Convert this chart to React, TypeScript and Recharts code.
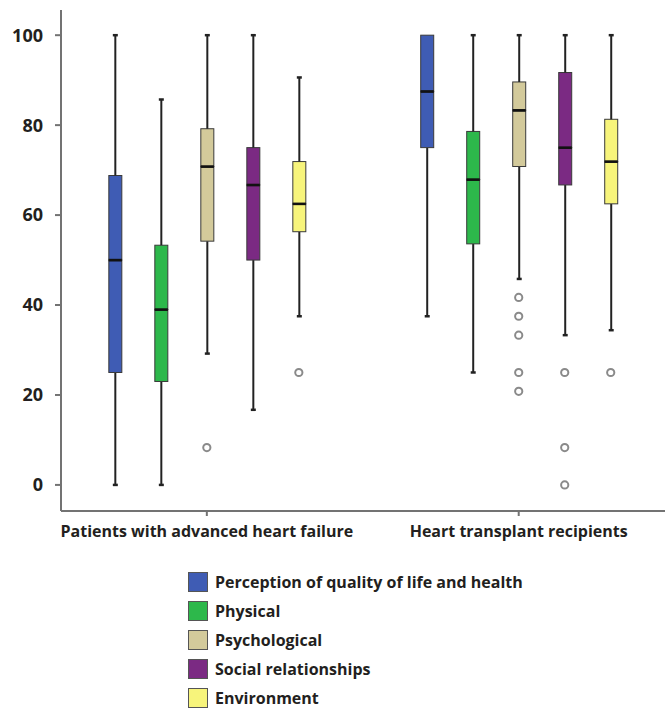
import { Bar, ComposedChart, Scatter, XAxis, YAxis } from "recharts";

const groups = ["Patients with advanced heart failure", "Heart transplant recipients"];
const domains = [
  "Perception of quality of life and health",
  "Physical",
  "Psychological",
  "Social relationships",
  "Environment",
];
const COLORS = ["#3F5CB4", "#2DB84B", "#D3CA9B", "#7B2A83", "#F7F47B"];

// five-number summaries per domain (order as in `domains`)
const failureMin = [0, 0, 29.2, 16.7, 37.5];
const failureQ1 = [25, 23, 54.2, 50, 56.3];
const failureMedian = [50, 39, 70.8, 66.7, 62.5];
const failureQ3 = [68.8, 53.3, 79.2, 75, 71.9];
const failureMax = [100, 85.7, 100, 100, 90.6];
const failureOutliers = [[], [], [8.3], [], [25]];

const transplantMin = [37.5, 25, 45.8, 33.3, 34.4];
const transplantQ1 = [75, 53.6, 70.8, 66.7, 62.5];
const transplantMedian = [87.5, 67.9, 83.3, 75, 71.9];
const transplantQ3 = [100, 78.6, 89.6, 91.7, 81.3];
const transplantMax = [100, 100, 100, 100, 100];
const transplantOutliers = [[], [], [41.7, 37.5, 33.3, 25, 20.8], [25, 8.3, 0], [25]];

const yTicks = [0, 20, 40, 60, 80, 100];

const GROUP_CENTERS = [3, 9.78];
const X_DOMAIN: [number, number] = [-0.17, 12.96];
const Y_DOMAIN: [number, number] = [-5.8, 105.6];

const stats = [
  { min: failureMin, q1: failureQ1, med: failureMedian, q3: failureQ3, max: failureMax, out: failureOutliers },
  { min: transplantMin, q1: transplantQ1, med: transplantMedian, q3: transplantQ3, max: transplantMax, out: transplantOutliers },
];

const rows = stats.flatMap((s, gi) =>
  domains.map((_, i) => ({
    pos: GROUP_CENTERS[gi] + i - 2,
    cat: i,
    base: s.min[i],
    lowWhisker: s.q1[i] - s.min[i],
    lowBox: s.med[i] - s.q1[i],
    highBox: s.q3[i] - s.med[i],
    highWhisker: s.max[i] - s.q3[i],
  }))
);

const outliers = stats.flatMap((s, gi) =>
  s.out.flatMap((vals, i) => vals.map((v) => ({ pos: GROUP_CENTERS[gi] + i - 2, value: v })))
);

const FONT = "'Open Sans', 'Noto Sans', sans-serif";
const TEXT = "#231F20";
const AXIS = "#737373";
const BOX_W = 13;

const Whisker = (capAtTop: boolean) => (props: any) => {
  const { x, y, width, height } = props;
  if (!height || height <= 0) return null;
  const cx = x + width / 2;
  const capY = capAtTop ? y : y + height;
  return (
    <g>
      <line x1={cx} x2={cx} y1={y} y2={y + height} stroke="#222" strokeWidth={2} />
      <line x1={cx - 2.5} x2={cx + 2.5} y1={capY} y2={capY} stroke="#222" strokeWidth={2.5} />
    </g>
  );
};

const Box = (medianAtTop: boolean) => (props: any) => {
  const { x, y, width, height, payload } = props;
  const cx = x + width / 2;
  const h = Math.max(height || 0, 0);
  const medY = medianAtTop ? y : y + h;
  return (
    <g>
      {h > 0 && (
        <rect
          x={cx - BOX_W / 2}
          y={y}
          width={BOX_W}
          height={h}
          fill={COLORS[payload.cat]}
          stroke="#3a3a3a"
          strokeWidth={1}
        />
      )}
      <line x1={cx - BOX_W / 2} x2={cx + BOX_W / 2} y1={medY} y2={medY} stroke="#111" strokeWidth={2.5} />
    </g>
  );
};

const Outlier = (props: any) => {
  const { cx, cy } = props;
  return <circle cx={cx} cy={cy} r={3.6} fill="#fff" stroke="#8a8a8a" strokeWidth={2} />;
};

export default function App() {
  return (
    <div
      style={{
        position: "absolute",
        left: 0,
        top: 0,
        width: 670,
        height: 709,
        background: "#fff",
        fontFamily: FONT,
      }}
    >
      <ComposedChart
        width={670}
        height={560}
        data={rows}
        margin={{ top: 10, right: 5, left: 0, bottom: 0 }}
      >
        <XAxis
          xAxisId={0}
          type="number"
          dataKey="pos"
          domain={X_DOMAIN}
          ticks={GROUP_CENTERS}
          tickFormatter={(_v: number, i: number) => groups[i]}
          allowDataOverflow
          height={49}
          tickSize={5}
          tickMargin={10}
          axisLine={{ stroke: AXIS, strokeWidth: 2 }}
          tickLine={{ stroke: AXIS, strokeWidth: 2 }}
          tick={{ fill: TEXT, fontSize: 16, fontWeight: 700, fontFamily: FONT }}
        />
        <XAxis
          xAxisId="top"
          orientation="top"
          type="number"
          domain={X_DOMAIN}
          height={0}
          tick={false}
          tickLine={false}
          axisLine={{ stroke: AXIS, strokeWidth: 2 }}
        />
        <YAxis
          yAxisId={0}
          type="number"
          domain={Y_DOMAIN}
          ticks={yTicks}
          allowDataOverflow
          width={61}
          tickSize={6}
          tickMargin={12}
          axisLine={{ stroke: AXIS, strokeWidth: 2 }}
          tickLine={{ stroke: AXIS, strokeWidth: 2 }}
          tick={{ fill: TEXT, fontSize: 18, fontWeight: 700, fontFamily: FONT }}
        />
        <YAxis
          yAxisId="right"
          orientation="right"
          type="number"
          domain={Y_DOMAIN}
          width={0}
          tick={false}
          tickLine={false}
          axisLine={{ stroke: AXIS, strokeWidth: 2 }}
        />
        <Bar dataKey="base" stackId="box" barSize={BOX_W} fill="transparent" isAnimationActive={false} />
        <Bar dataKey="lowWhisker" stackId="box" barSize={BOX_W} shape={Whisker(false)} isAnimationActive={false} />
        <Bar dataKey="lowBox" stackId="box" barSize={BOX_W} shape={Box(true)} isAnimationActive={false} />
        <Bar dataKey="highBox" stackId="box" barSize={BOX_W} shape={Box(false)} isAnimationActive={false} />
        <Bar dataKey="highWhisker" stackId="box" barSize={BOX_W} shape={Whisker(true)} isAnimationActive={false} />
        <Scatter data={outliers} dataKey="value" shape={Outlier} isAnimationActive={false} />
      </ComposedChart>
      <div style={{ position: "absolute", left: 188, top: 567 }}>
        {domains.map((d, i) => (
          <div key={d} style={{ display: "flex", alignItems: "center", height: 29 }}>
            <span
              style={{
                width: 20,
                height: 20,
                background: COLORS[i],
                border: "1px solid #555",
                boxSizing: "border-box",
                marginRight: 7,
                flexShrink: 0,
              }}
            />
            <span style={{ fontSize: 16, fontWeight: 700, color: TEXT, lineHeight: "20px" }}>{d}</span>
          </div>
        ))}
      </div>
    </div>
  );
}
